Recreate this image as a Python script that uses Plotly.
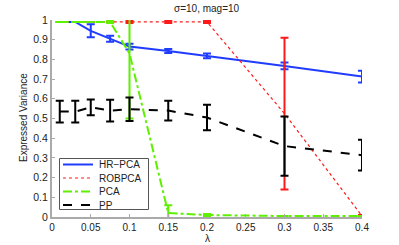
import plotly.graph_objects as go

lam = [0.01, 0.03, 0.05, 0.075, 0.1, 0.15, 0.2, 0.3, 0.4]

hr_pca = [0.99, 0.99, 0.945, 0.905, 0.865, 0.843, 0.818, 0.767, 0.713]
hr_pca_err = [0.0, 0.0, 0.033, 0.015, 0.015, 0.01, 0.012, 0.017, 0.03]

robpca = [0.99, 0.99, 0.99, 0.99, 0.99, 0.99, 0.99, 0.525, 0.005]
robpca_err = [0.0, 0.0, 0.0, 0.0, 0.005, 0.005, 0.005, 0.385, 0.005]

pca = [0.99, 0.99, 0.99, 0.99, 0.83, 0.02, 0.01, 0.005, 0.005]
pca_err = [0.0, 0.0, 0.0, 0.005, 0.33, 0.04, 0.005, 0.0, 0.0]

pp = [0.535, 0.535, 0.557, 0.54, 0.547, 0.54, 0.505, 0.36, 0.314]
pp_err = [0.055, 0.055, 0.04, 0.055, 0.06, 0.05, 0.065, 0.15, 0.078]

x_ticks = [0, 0.05, 0.1, 0.15, 0.2, 0.25, 0.3, 0.35, 0.4]
x_labels = ["0", "0.05", "0.1", "0.15", "0.2", "0.25", "0.3", "0.35", "0.4"]
y_ticks = [0, 0.1, 0.2, 0.3, 0.4, 0.5, 0.6, 0.7, 0.8, 0.9, 1]
y_labels = ["0", "0.1", "0.2", "0.3", "0.4", "0.5", "0.6", "0.7", "0.8", "0.9", "1"]

series = [
    ("HR\u2212PCA", hr_pca, hr_pca_err, "#1f3cff", "solid", 2),
    ("ROBPCA", robpca, robpca_err, "#ff1a1a", "dot", 1.2),
    ("PCA", pca, pca_err, "#5ef000", "dashdot", 2),
    ("PP", pp, pp_err, "#000000", "dash", 2),
]

W, H = 399, 245
ML, MT = 52, 20
PW, PH = 310, 197
MR, MB = W - ML - PW, H - MT - PH


def px_x(px):
    return (px - ML) / PW


def px_y(py):
    return (MT + PH - py) / PH


fig = go.Figure()
for name, vals, errs, color, dash, lw in series:
    fig.add_trace(go.Scatter(
        x=lam, y=vals, name=name, mode="lines", showlegend=False,
        line=dict(color=color, dash=dash, width=lw),
        error_y=dict(type="data", array=errs, visible=True,
                     color=color, thickness=2, width=4),
    ))

shapes = [dict(type="rect", xref="paper", yref="paper",
               x0=px_x(59.5), x1=px_x(148.5), y0=px_y(209.5), y1=px_y(158.5),
               line=dict(color="#555555", width=1), fillcolor="white", layer="above")]
annotations = []
entry_y = [164.5, 178, 191.5, 205]
for (name, vals, errs, color, dash, lw), ey in zip(series, entry_y):
    shapes.append(dict(type="line", xref="paper", yref="paper",
                       x0=px_x(63), x1=px_x(93), y0=px_y(ey), y1=px_y(ey),
                       line=dict(color=color, dash=dash, width=lw), layer="above"))
    annotations.append(dict(text=name, x=px_x(97), y=px_y(ey), xref="paper", yref="paper",
                            xanchor="left", yanchor="middle", showarrow=False,
                            font=dict(size=10)))

font = "Liberation Sans, Arial, sans-serif"
annotations += [
    dict(text="\u03c3=10, mag=10", x=px_x(207), y=px_y(8), xref="paper", yref="paper",
         xanchor="center", yanchor="middle", showarrow=False,
         font=dict(size=10)),
    dict(text="\u03bb", x=px_x(207), y=px_y(238), xref="paper", yref="paper",
         xanchor="center", yanchor="middle", showarrow=False,
         font=dict(size=10)),
    dict(text="Expressed Variance", x=px_x(23), y=px_y(118), xref="paper", yref="paper",
         xanchor="center", yanchor="middle", textangle=-90,
         showarrow=False, font=dict(size=10)),
]

fig.update_layout(
    width=W, height=H,
    margin=dict(l=ML, r=MR, t=MT, b=MB),
    paper_bgcolor="white", plot_bgcolor="white",
    font=dict(family=font, size=10, color="#222222"),
    showlegend=False,
    xaxis=dict(range=[0, 0.4], tickvals=x_ticks, ticktext=x_labels,
               showgrid=False, zeroline=False, showline=True, linecolor="#aaaaaa",
               linewidth=2, ticks="inside", ticklen=3, tickcolor="#aaaaaa",
               tickfont=dict(size=10)),
    yaxis=dict(range=[0, 1], tickvals=y_ticks, ticktext=y_labels,
               showgrid=False, zeroline=False, showline=True, linecolor="#aaaaaa",
               linewidth=2, ticks="inside", ticklen=3, tickcolor="#aaaaaa",
               tickfont=dict(size=10.5)),
    shapes=shapes,
    annotations=annotations,
)

fig.write_html("out.html", config={"displayModeBar": False},
               post_script="document.body.style.margin='0';document.body.style.overflow='hidden';")
